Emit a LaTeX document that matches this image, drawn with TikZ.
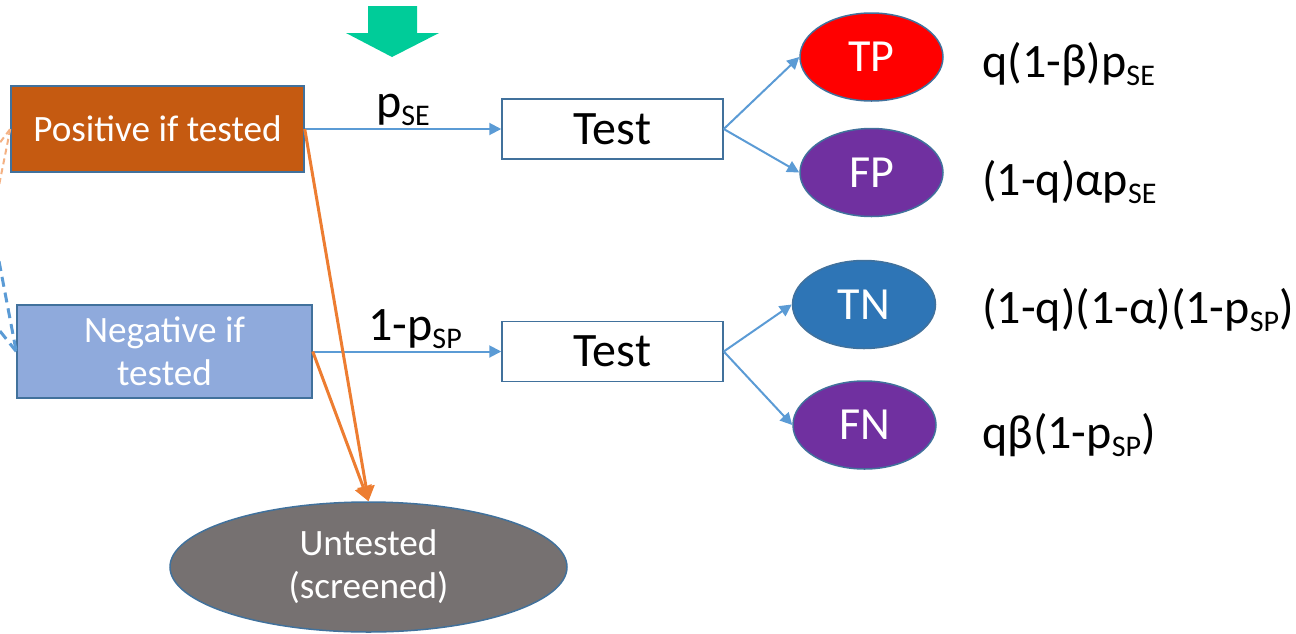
\documentclass[tikz,border=0pt]{standalone}
\usepackage{fontspec}
\setmainfont{Carlito}
\usetikzlibrary{arrows.meta,shapes.geometric}

\definecolor{edgeblue}{HTML}{41719C}
\definecolor{posorange}{HTML}{C55A11}
\definecolor{neglight}{HTML}{8FAADC}
\definecolor{tpred}{HTML}{FF0000}
\definecolor{fpurple}{HTML}{7030A0}
\definecolor{tnblue}{HTML}{2E75B6}
\definecolor{untgray}{HTML}{767171}
\definecolor{linkblue}{HTML}{5B9BD5}
\definecolor{linkorange}{HTML}{ED7D31}
\definecolor{paleorange}{HTML}{F4B183}
\definecolor{flowgreen}{HTML}{00CC99}

\newcommand{\lowidx}[1]{\raisebox{-4pt}{\fontsize{15}{15}\selectfont #1}}

\tikzset{
  groupbox/.style={draw=edgeblue, line width=0.75pt, text=white, align=center,
    inner sep=0pt, font=\fontsize{18.6}{21.5}\selectfont},
  testbox/.style={draw=edgeblue, line width=0.75pt, fill=white, inner sep=0pt,
    minimum width=110.5pt, minimum height=30pt, font=\fontsize{24}{28}\selectfont},
  outcome/.style={ellipse, draw=edgeblue, line width=0.75pt, inner sep=0pt,
    minimum width=71.5pt, minimum height=44pt, text=white, font=\fontsize{23}{27}\selectfont},
  formula/.style={anchor=base west, inner sep=0pt, font=\fontsize{24}{28}\selectfont},
  bluelink/.style={draw=linkblue, line width=1pt, -{Triangle[length=6pt,width=6pt]}},
  orangelink/.style={draw=linkorange, line width=1.5pt, -{Triangle[length=7.5pt,width=8.5pt]}},
}

\begin{document}
\begin{tikzpicture}[x=0.5pt,y=-0.5pt]
  \useasboundingbox (0,0) rectangle (1296,633);
  \clip (0,0) rectangle (1296,633);

  \fill[flowgreen] (368,6) -- (417,6) -- (417,33) -- (439,33) -- (392,57)
    -- (346,33) -- (368,33) -- cycle;

  \node[groupbox, fill=posorange, minimum width=146.5pt, minimum height=43pt]
    (pos) at (157.5,129) {Positive if tested};
  \node[groupbox, fill=neglight, minimum width=147.5pt, minimum height=46.5pt]
    (neg) at (164.5,351.5) {Negative if\\tested};
  \node[ellipse, groupbox, fill=untgray, minimum width=198.5pt, minimum height=65pt]
    (unt) at (368.5,567) {Untested\\(screened)};

  \node[testbox] (testA) at (612.5,129) {Test};
  \node[testbox] (testB) at (612.5,351.5) {Test};

  \node[outcome, fill=tpred] (tp) at (871.5,57) {TP};
  \node[outcome, fill=fpurple] (fp) at (871.5,172.5) {FP};
  \node[outcome, fill=tnblue] (tn) at (864,304.5) {TN};
  \node[outcome, fill=fpurple] (fn) at (864.5,425) {FN};

  \node[formula] (ftp) at (982,77) {q(1-β)p\lowidx{SE}};
  \node[formula] (ffp) at (982,195) {(1-q)αp\lowidx{SE}};
  \node[formula] (ftn) at (982,323) {(1-q)(1-α)(1-p\lowidx{SP})};
  \node[formula] (ffn) at (982,448) {qβ(1-p\lowidx{SP})};

  \draw[bluelink] (pos.east) -- node[above, inner sep=1pt, font=\fontsize{24}{28}\selectfont]
    {p\lowidx{SE}} (testA.west);
  \draw[bluelink] (neg.east) -- node[above, inner sep=1pt, xshift=4pt, font=\fontsize{24}{28}\selectfont]
    {1-p\lowidx{SP}} (testB.west);

  \draw[bluelink] (testA.east) -- (tp.west);
  \draw[bluelink] (testA.east) -- (fp.west);
  \draw[bluelink] (testB.east) -- (tn.west);
  \draw[bluelink] (testB.east) -- (fn.west);

  \draw[orangelink] (pos.east) -- (unt.north);
  \draw[orangelink] (neg.east) -- (unt.north);

  % curves coming in from the left, cut by the frame
  \coordinate (posin) at (-30,182);
  \coordinate (posout) at (-10,231);
  \coordinate (negin) at (-10,214);
  \coordinate (negout) at (-20,306);
  \draw[paleorange, line width=1pt, dash pattern=on 3pt off 2pt] (posin) -- (pos.west);
  \draw[paleorange, line width=1pt, dash pattern=on 3pt off 2pt] (pos.west) -- (posout);
  \draw[linkblue, line width=1.5pt, dash pattern=on 5pt off 3pt] (negin) -- (neg.west);
  \draw[linkblue, line width=1.5pt, dash pattern=on 5pt off 3pt] (negout) -- (neg.west);
\end{tikzpicture}
\end{document}
